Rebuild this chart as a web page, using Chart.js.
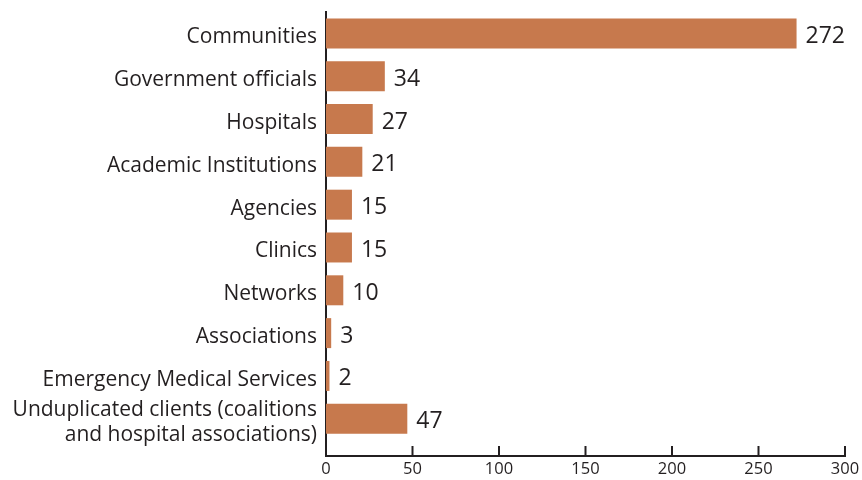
<!DOCTYPE html>
<html>
<head>
<meta charset="utf-8">
<script src="https://cdn.jsdelivr.net/npm/chart.js@4"></script>
<style>
  html, body { margin: 0; padding: 0; background: #fff; }
  #wrap { width: 862px; height: 480px; position: relative; }
</style>
</head>
<body>
<div id="wrap"><canvas id="chart_clients"></canvas></div>
<script>
var categories = [
    'Communities',
    'Government officials',
    'Hospitals',
    'Academic Institutions',
    'Agencies',
    'Clinics',
    'Networks',
    'Associations',
    'Emergency Medical Services',
    ['Unduplicated clients (coalitions', 'and hospital associations)']
];
var counts = [272, 34, 27, 21, 15, 15, 10, 3, 2, 47];
var xTicks = [0, 50, 100, 150, 200, 250, 300];

var textColor = '#231F20';
var barColor = '#C7794D';

var chart_clients = new Chart(document.getElementById('chart_clients'), {
    type: 'bar',
    data: {
        labels: categories,
        datasets: [
            {
                label: 'Clients',
                data: counts,
                backgroundColor: barColor,
                borderWidth: 0,
                categoryPercentage: 1.0,
                barPercentage: 0.7
            }
        ]
    },
    options: {
        indexAxis: 'y',
        animation: false,
        responsive: true,
        maintainAspectRatio: false,
        layout: {
            padding: { top: 12, right: 17, left: 0, bottom: 0 }
        },
        plugins: {
            legend: { display: false },
            tooltip: { enabled: false }
        },
        scales: {
            x: {
                type: 'linear',
                min: 0,
                max: 300,
                afterBuildTicks: function (scale) {
                    scale.ticks = xTicks.map(function (v) { return { value: v }; });
                },
                afterFit: function (scale) {
                    scale.height = 24;
                    scale.paddingLeft = 0;
                    scale.paddingRight = 0;
                },
                grid: { display: false, drawTicks: false },
                border: { display: true, color: textColor, width: 2 },
                ticks: {
                    color: textColor,
                    padding: 3,
                    font: { family: 'Open Sans', size: 16.5 }
                }
            },
            y: {
                // leave a little empty room above the x axis, as in the original
                afterBuildTicks: function (scale) { scale._valueRange = scale._valueRange + 0.37; },
                afterFit: function (scale) {
                    scale.width = 326;
                    scale.paddingTop = 0;
                    scale.paddingBottom = 0;
                },
                grid: { display: false, drawTicks: false },
                border: { display: true, color: textColor, width: 2 },
                ticks: {
                    autoSkip: false,
                    color: textColor,
                    padding: 9,
                    labelOffset: 4,
                    font: { family: 'Open Sans', size: 21, lineHeight: 1.2 }
                }
            }
        }
    },
    plugins: [{
        id: 'tickMarksAndValues',
        afterDraw: function (chart) {
            var ctx = chart.ctx;
            var xs = chart.scales.x;
            var bottom = chart.chartArea.bottom;
            ctx.save();
            ctx.strokeStyle = textColor;
            ctx.lineWidth = 2;
            xTicks.forEach(function (v) {
                var px = xs.getPixelForValue(v);
                ctx.beginPath();
                ctx.moveTo(px, bottom);
                ctx.lineTo(px, bottom - 10);
                ctx.stroke();
            });
            var meta = chart.getDatasetMeta(0);
            ctx.fillStyle = textColor;
            ctx.font = '23px "Open Sans"';
            ctx.textAlign = 'left';
            ctx.textBaseline = 'middle';
            meta.data.forEach(function (bar, i) {
                ctx.fillText(String(counts[i]), bar.x + 9, bar.y + 3);
            });
            ctx.restore();
        }
    }]
});
</script>
</body>
</html>
